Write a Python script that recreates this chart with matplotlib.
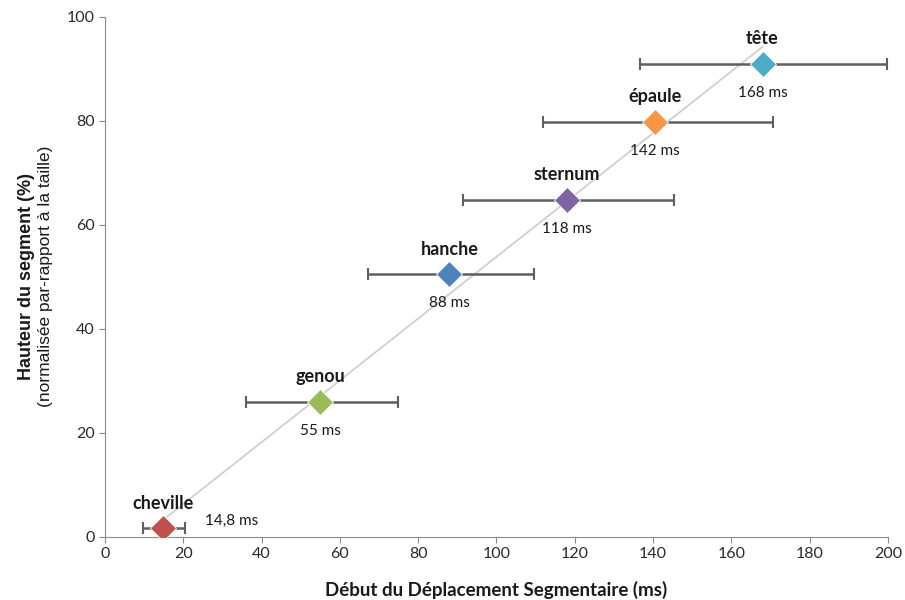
import matplotlib

matplotlib.use("Agg")
from matplotlib import pyplot as plt
import numpy as np

# segments (nom, début en ms, hauteur en %)
segments = ["cheville", "genou", "hanche", "sternum", "épaule", "tête"]
debut_ms = [14.8, 55, 88, 118, 140.5, 168]
hauteur = [1.7, 26.0, 50.5, 64.8, 79.8, 91.0]
err_low = [9.7, 36.0, 67.2, 91.4, 111.9, 136.7]
err_high = [20.4, 74.8, 109.6, 145.3, 170.6, 199.7]
value_labels = ["14,8 ms", "55 ms", "88 ms", "118 ms", "142 ms", "168 ms"]
colors = ["#c0504d", "#9bbb59", "#4f81bd", "#8064a2", "#f79646", "#4bacc6"]

plt.rcParams["font.family"] = ["Lato", "DejaVu Sans"]

fig = plt.figure(figsize=(9.05, 6), dpi=100)
ax = fig.add_axes([0.116, 0.105, 0.865, 0.867])

# droite de tendance (régression linéaire)
coef = np.polyfit(debut_ms, hauteur, 1)
xs = np.array([min(debut_ms), max(debut_ms)])
ax.plot(xs, np.polyval(coef, xs), color="#cfcfcf", lw=1.3, zorder=1)

for i, name in enumerate(segments):
    x, y = debut_ms[i], hauteur[i]
    ax.errorbar(x, y, xerr=[[x - err_low[i]], [err_high[i] - x]], fmt="none",
                ecolor="#5f5f5f", elinewidth=1.8, capsize=4, capthick=1.5, zorder=2)
    ax.scatter(x, y, marker="D", s=175, color=colors[i], edgecolor="white",
               linewidth=0.6, zorder=3)
    ax.annotate(name, (x, y), xytext=(0, 18), textcoords="offset points",
                ha="center", va="center", fontsize=13, fontweight="bold",
                color="#1a1a1a")
    if i == 0:
        ax.annotate(value_labels[i], (x, y), xytext=(30, 5), textcoords="offset points",
                    ha="left", va="center", fontsize=11, color="#1a1a1a")
    else:
        ax.annotate(value_labels[i], (x, y), xytext=(0, -21), textcoords="offset points",
                    ha="center", va="center", fontsize=11, color="#1a1a1a")

ax.set_xlim(0, 200)
ax.set_ylim(0, 100)
ax.set_xticks(np.arange(0, 201, 20))
ax.set_yticks(np.arange(0, 101, 20))
for s in ["top", "right"]:
    ax.spines[s].set_visible(False)
for s in ["left", "bottom"]:
    ax.spines[s].set_color("#8c8c8c")
ax.tick_params(colors="#8c8c8c", labelcolor="#2a2a2a", labelsize=11.5, length=4, direction="out")

ax.set_xlabel("Début du Déplacement Segmentaire (ms)", fontsize=13.5, fontweight="bold",
              color="#1a1a1a", labelpad=14)
fig.text(0.029, 0.54, "Hauteur du segment (%)", rotation=90, ha="center", va="center",
         fontsize=13, fontweight="bold", family=["Liberation Sans"], color="#1a1a1a")
fig.text(0.050, 0.54, "(normalisée par-rapport à la taille)", rotation=90, ha="center",
         va="center", fontsize=12.5, family=["Liberation Sans"], color="#1a1a1a")

fig.savefig("out.png", dpi=100)
